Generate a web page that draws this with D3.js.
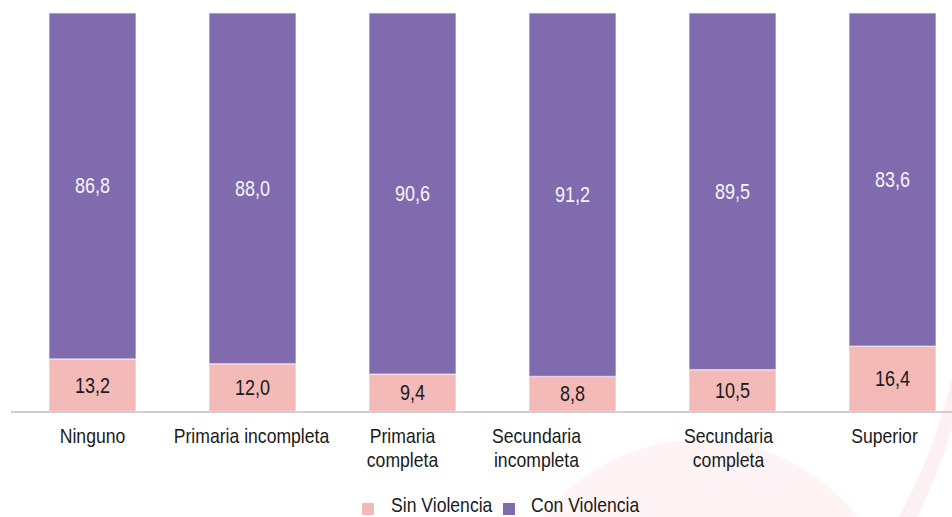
<!DOCTYPE html>
<html>
<head>
<meta charset="utf-8">
<script src="https://cdn.jsdelivr.net/npm/d3@7/dist/d3.min.js"></script>
<style>
  html, body { margin: 0; padding: 0; background: #ffffff; }
  svg { display: block; }
  text { font-family: "Liberation Sans", Arial, sans-serif; }
</style>
</head>
<body>
<div id="chart"></div>
<script>
// ---- data ----
const categories = ["Ninguno", "Primaria incompleta", "Primaria completa", "Secundaria incompleta", "Secundaria completa", "Superior"];
const categoryLines = [["Ninguno"], ["Primaria incompleta"], ["Primaria", "completa"], ["Secundaria", "incompleta"], ["Secundaria", "completa"], ["Superior"]];
const sinViolencia = [13.2, 12.0, 9.4, 8.8, 10.5, 16.4];
const conViolencia = [86.8, 88.0, 90.6, 91.2, 89.5, 83.6];
const seriesNames = ["Sin Violencia", "Con Violencia"];

// ---- layout / style ----
const W = 952, H = 517;
const colors = { "Sin Violencia": "#f3bab8", "Con Violencia": "#7f6bae" };
const labelNudge = [0, -1, -10, -36, -4, -8];
const fmt = v => v.toFixed(1).replace(".", ",");

const svg = d3.select("#chart").append("svg").attr("width", W).attr("height", H);

// faint decorative background shapes
const deco = svg.append("g");
deco.append("path")
  .attr("d", "M 952 140 C 985 270, 960 420, 885 540 L 905 540 C 972 420, 995 270, 952 140 Z")
  .attr("fill", "#fdf0f2");
deco.append("circle").attr("cx", 700).attr("cy", 640).attr("r", 200).attr("fill", "#fef4f5");

const x = d3.scaleBand().domain(categories).range([12.5, 972.5]).paddingInner(73 / 160).paddingOuter(73 / 320);
const y = d3.scaleLinear().domain([0, 100]).range([411.5, 13]);

const rows = categories.map((c, i) => ({ cat: c, "Sin Violencia": sinViolencia[i], "Con Violencia": conViolencia[i] }));
const stacked = d3.stack().keys(seriesNames)(rows);

const layers = svg.append("g").selectAll("g").data(stacked).join("g")
  .attr("fill", d => colors[d.key]);

layers.selectAll("rect").data(d => d.map(p => ({ p, key: d.key }))).join("rect")
  .attr("x", d => x(d.p.data.cat))
  .attr("width", x.bandwidth())
  .attr("y", d => y(d.p[1]))
  .attr("height", d => y(d.p[0]) - y(d.p[1]))
  .attr("stroke", "#ffffff")
  .attr("stroke-opacity", 0.45)
  .attr("stroke-width", 1.5);

// value labels
layers.selectAll("text").data(d => d.map(p => ({ p, key: d.key }))).join("text")
  .attr("transform", d => {
    const cx = x(d.p.data.cat) + x.bandwidth() / 2;
    const cy = (y(d.p[0]) + y(d.p[1])) / 2;
    return `translate(${cx},${cy + 7.5}) scale(0.8,1)`;
  })
  .attr("text-anchor", "middle")
  .attr("font-size", 22.5)
  .attr("fill", d => d.key === "Con Violencia" ? "#f7f5fa" : "#1a1a1a")
  .text(d => fmt(d.p.data[d.key]));

// baseline axis
svg.append("line")
  .attr("x1", 11).attr("x2", W)
  .attr("y1", y(0) + 0.5).attr("y2", y(0) + 0.5)
  .attr("stroke", "#cfcfcf").attr("stroke-width", 2.2);

// category labels
const catG = svg.append("g");
categories.forEach((c, i) => {
  const cx = x(c) + x.bandwidth() / 2 + labelNudge[i];
  categoryLines[i].forEach((line, j) => {
    catG.append("text")
      .attr("transform", `translate(${cx},${443 + j * 23.5}) scale(0.88,1)`)
      .attr("text-anchor", "middle")
      .attr("font-size", 20)
      .attr("fill", "#1a1a1a")
      .text(line);
  });
});

// legend
const legend = svg.append("g");
const legendItems = [
  { key: "Sin Violencia", sx: 362, tx: 391 },
  { key: "Con Violencia", sx: 503, tx: 531 }
];
legendItems.forEach(it => {
  legend.append("rect").attr("x", it.sx).attr("y", 503).attr("width", 12).attr("height", 12)
    .attr("fill", colors[it.key]);
  legend.append("text")
    .attr("transform", `translate(${it.tx},${512}) scale(0.88,1)`)
    .attr("font-size", 20)
    .attr("fill", "#1a1a1a")
    .text(it.key);
});
</script>
</body>
</html>
